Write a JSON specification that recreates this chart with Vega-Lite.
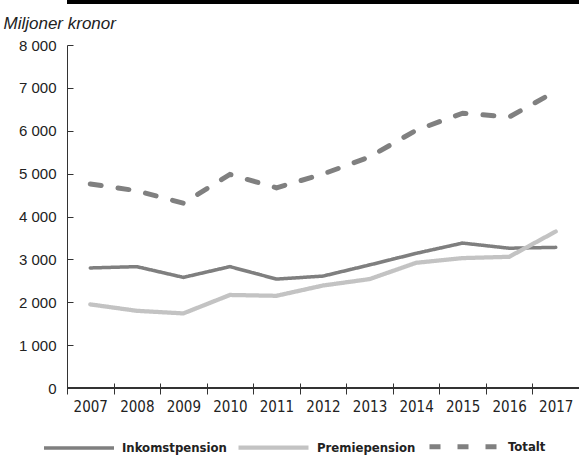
{
  "$schema": "https://vega.github.io/schema/vega-lite/v6.json",
  "width": 512,
  "height": 343,
  "autosize": {"type": "none"},
  "padding": {"left": 67, "top": 45, "right": 0, "bottom": 71},
  "background": "white",
  "config": {
    "view": {"stroke": null},
    "locale": {"number": {"decimal": ",", "thousands": " ", "grouping": [3], "currency": ["", " kr"]}}
  },
  "data": {
    "values": [
      {"year": "2007", "serie": "Inkomstpension", "value": 2800},
      {"year": "2008", "serie": "Inkomstpension", "value": 2830},
      {"year": "2009", "serie": "Inkomstpension", "value": 2580},
      {"year": "2010", "serie": "Inkomstpension", "value": 2830},
      {"year": "2011", "serie": "Inkomstpension", "value": 2540},
      {"year": "2012", "serie": "Inkomstpension", "value": 2610},
      {"year": "2013", "serie": "Inkomstpension", "value": 2870},
      {"year": "2014", "serie": "Inkomstpension", "value": 3140},
      {"year": "2015", "serie": "Inkomstpension", "value": 3380},
      {"year": "2016", "serie": "Inkomstpension", "value": 3260},
      {"year": "2017", "serie": "Inkomstpension", "value": 3280},
      {"year": "2007", "serie": "Premiepension", "value": 1950},
      {"year": "2008", "serie": "Premiepension", "value": 1800},
      {"year": "2009", "serie": "Premiepension", "value": 1740},
      {"year": "2010", "serie": "Premiepension", "value": 2170},
      {"year": "2011", "serie": "Premiepension", "value": 2150},
      {"year": "2012", "serie": "Premiepension", "value": 2390},
      {"year": "2013", "serie": "Premiepension", "value": 2540},
      {"year": "2014", "serie": "Premiepension", "value": 2920},
      {"year": "2015", "serie": "Premiepension", "value": 3030},
      {"year": "2016", "serie": "Premiepension", "value": 3060},
      {"year": "2017", "serie": "Premiepension", "value": 3650},
      {"year": "2007", "serie": "Totalt", "value": 4760},
      {"year": "2008", "serie": "Totalt", "value": 4600},
      {"year": "2009", "serie": "Totalt", "value": 4310},
      {"year": "2010", "serie": "Totalt", "value": 4980},
      {"year": "2011", "serie": "Totalt", "value": 4670},
      {"year": "2012", "serie": "Totalt", "value": 4990},
      {"year": "2013", "serie": "Totalt", "value": 5390},
      {"year": "2014", "serie": "Totalt", "value": 6010},
      {"year": "2015", "serie": "Totalt", "value": 6410},
      {"year": "2016", "serie": "Totalt", "value": 6320},
      {"year": "2017", "serie": "Totalt", "value": 6920}
    ]
  },
  "layer": [
    {
      "mark": {"type": "rule", "clip": false, "color": "#000000", "strokeWidth": 3},
      "encoding": {"y": {"datum": 9000, "type": "quantitative"}}
    },
    {
      "mark": {"type": "rule", "color": "#333333", "strokeWidth": 1},
      "encoding": {"y": {"datum": 0, "type": "quantitative"}}
    },
    {
      "mark": {"type": "line", "strokeCap": "round", "strokeJoin": "miter"},
      "encoding": {
        "x": {
          "field": "year",
          "type": "ordinal",
          "bandPosition": 0.5,
          "scale": {"type": "band", "paddingInner": 0, "paddingOuter": 0},
          "axis": {
            "title": null,
            "domain": false,
            "offset": -5,
            "tickSize": 11,
            "tickBand": "extent",
            "tickColor": "#333333",
            "labelAngle": 0,
            "labelFont": "DejaVu Sans Condensed",
            "labelFontSize": 15,
            "labelColor": "#222222",
            "labelPadding": 5
          }
        },
        "y": {
          "field": "value",
          "type": "quantitative",
          "scale": {"domain": [0, 8000], "nice": false},
          "axis": {
            "values": [0, 1000, 2000, 3000, 4000, 5000, 6000, 7000, 8000],
            "format": ",d",
            "grid": false,
            "domainColor": "#333333",
            "tickColor": "#333333",
            "tickSize": -6,
            "labelFont": "Liberation Sans",
            "labelFontSize": 15,
            "labelColor": "#222222",
            "labelPadding": 17,
            "title": "Miljoner kronor",
            "titleFont": "Liberation Sans",
            "titleFontStyle": "italic",
            "titleFontWeight": "normal",
            "titleFontSize": 17,
            "titleColor": "#222222",
            "titleAngle": 0,
            "titleAlign": "left",
            "titleBaseline": "alphabetic",
            "titleX": -64,
            "titleY": -17
          }
        },
        "color": {
          "field": "serie",
          "type": "nominal",
          "scale": {"domain": ["Inkomstpension", "Premiepension", "Totalt"], "range": ["#7f7f7f", "#c3c3c3", "#808080"]},
          "legend": {
            "title": null,
            "orient": "none",
            "direction": "horizontal",
            "legendX": -25,
            "legendY": 364,
            "symbolType": "stroke",
            "symbolSize": 4900,
            "labelFont": "DejaVu Sans Condensed",
            "labelFontWeight": "bold",
            "labelFontSize": 13,
            "labelColor": "#222222",
            "labelOffset": 6,
            "columnPadding": 3
          }
        },
        "strokeDash": {
          "field": "serie",
          "type": "nominal",
          "scale": {"domain": ["Inkomstpension", "Premiepension", "Totalt"], "range": [[1, 0], [1, 0], [11, 17]]},
          "legend": null
        },
        "strokeWidth": {
          "field": "serie",
          "type": "nominal",
          "scale": {"domain": ["Inkomstpension", "Premiepension", "Totalt"], "range": [3.5, 5, 4]},
          "legend": null
        }
      }
    }
  ]
}
